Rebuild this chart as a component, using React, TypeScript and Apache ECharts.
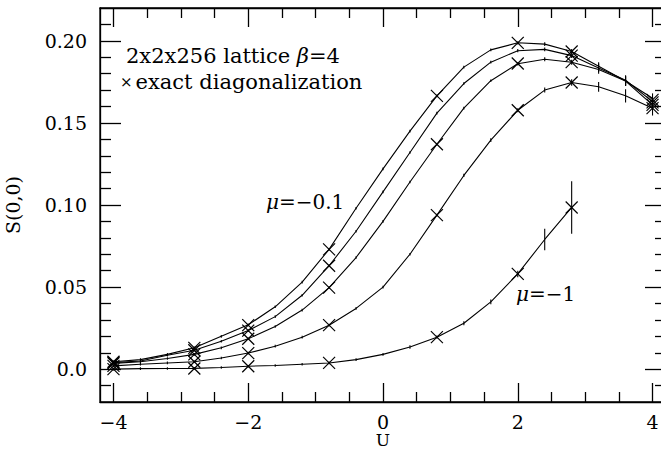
import { useEffect, useRef } from "react";
import * as echarts from "echarts";

// U grid of the simulation points
const U = [-4, -3.6, -3.2, -2.8, -2.4, -2, -1.6, -1.2, -0.8, -0.4, 0, 0.4, 0.8, 1.2, 1.6, 2, 2.4, 2.8, 3.2, 3.6, 4];

// S(0,0) for the five curves (top to bottom)
const sA = [0.0045, 0.0058, 0.009, 0.013, 0.02, 0.027, 0.038, 0.053, 0.073, 0.098, 0.122, 0.145, 0.1665, 0.184, 0.1945, 0.1988, 0.198, 0.1935, 0.1845, 0.1755, 0.165];
const sB = [0.004, 0.005, 0.0085, 0.0115, 0.017, 0.0235, 0.032, 0.045, 0.063, 0.084, 0.108, 0.132, 0.156, 0.174, 0.187, 0.194, 0.1948, 0.191, 0.1835, 0.176, 0.163];
const sC = [0.0035, 0.0045, 0.0065, 0.009, 0.013, 0.0185, 0.026, 0.036, 0.0497, 0.068, 0.09, 0.114, 0.137, 0.159, 0.1757, 0.186, 0.1888, 0.187, 0.1825, 0.1755, 0.161];
const sD = [0.002, 0.003, 0.0038, 0.0045, 0.0068, 0.0098, 0.014, 0.0195, 0.0268, 0.037, 0.05, 0.07, 0.0938, 0.118, 0.1395, 0.1577, 0.17, 0.1746, 0.172, 0.1665, 0.159];
const sE = [0, 0.0003, 0.0004, 0.0005, 0.001, 0.0018, 0.0022, 0.003, 0.0038, 0.0058, 0.009, 0.0135, 0.0195, 0.028, 0.041, 0.058, 0.079, 0.0985];

// error bars (half-lengths)
const errA = [0.0008, 0.0008, 0.0008, 0.0008, 0.0008, 0.0008, 0.0008, 0.0008, 0.0008, 0.0008, 0.0008, 0.0008, 0.0008, 0.0008, 0.0008, 0.001, 0.0012, 0.0015, 0.0025, 0.003, 0.003];
const errB = [0.0008, 0.0008, 0.0008, 0.0008, 0.0008, 0.0008, 0.0008, 0.0008, 0.0008, 0.0008, 0.0008, 0.0008, 0.0008, 0.0008, 0.0008, 0.001, 0.0012, 0.0015, 0.0025, 0.003, 0.003];
const errC = [0.0008, 0.0008, 0.0008, 0.0008, 0.0008, 0.0008, 0.0008, 0.0008, 0.0008, 0.0008, 0.0008, 0.0008, 0.0008, 0.0008, 0.0008, 0.001, 0.0012, 0.0015, 0.0025, 0.003, 0.003];
const errD = [0.0008, 0.0008, 0.0008, 0.0008, 0.0008, 0.0008, 0.0008, 0.0008, 0.0008, 0.0008, 0.0008, 0.0008, 0.0008, 0.001, 0.0012, 0.0012, 0.0015, 0.002, 0.003, 0.004, 0.0045];
const errE = [0.0008, 0.0008, 0.0008, 0.0008, 0.0008, 0.0008, 0.0008, 0.0008, 0.0008, 0.0008, 0.0008, 0.001, 0.001, 0.0012, 0.0015, 0.002, 0.0066, 0.016];

// exact diagonalization points
const exactU = [-4, -2.8, -2, -0.8, 0.8, 2, 2.8, 4];
const exA = [0.0045, 0.013, 0.0268, 0.073, 0.1665, 0.1988, 0.1935, 0.164];
const exB = [0.004, 0.0115, 0.0235, 0.063, null, null, 0.191, 0.1625];
const exC = [0.0035, 0.009, 0.0185, 0.0497, 0.137, 0.1862, 0.187, 0.161];
const exD = [0.002, 0.0045, 0.0098, 0.0268, 0.0938, 0.1577, 0.1746, 0.159];
const exE = [0.0, 0.0004, 0.0018, 0.0038, 0.0195, 0.058, 0.0985, null];

// ticks
const xMajor = [-4, -2, 0, 2, 4];
const xMinor = [-3.5, -3, -2.5, -1.5, -1, -0.5, 0.5, 1, 1.5, 2.5, 3, 3.5];
const yMajor = [0, 0.05, 0.1, 0.15, 0.2];
const yMinor = [-0.01, 0.01, 0.02, 0.03, 0.04, 0.06, 0.07, 0.08, 0.09, 0.11, 0.12, 0.13, 0.14, 0.16, 0.17, 0.18, 0.19, 0.21];

const FONT = "'DejaVu Serif', serif";
const BLACK = "#000";

export default function App() {
  const ref = useRef<HTMLDivElement>(null);

  useEffect(() => {
    if (!ref.current) return;
    const chart = echarts.init(ref.current, null, { renderer: "svg" });

    const curves = [sA, sB, sC, sD, sE];
    const errs = [errA, errB, errC, errD, errE];
    const exacts = [exA, exB, exC, exD, exE];

    const lineSeries = curves.map((vals, i) => ({
      type: "line",
      name: "curve" + i,
      data: vals.map((v, k) => [U[k], v]),
      showSymbol: false,
      symbol: "none",
      lineStyle: { color: BLACK, width: 1.1 },
      xAxisIndex: 0,
      yAxisIndex: 0,
      z: 3,
    }));

    const errData: number[][] = [];
    curves.forEach((vals, i) => {
      vals.forEach((v, k) => errData.push([U[k], v, errs[i][k]]));
    });
    const exData: number[][] = [];
    exacts.forEach((arr) => {
      arr.forEach((v, k) => {
        if (v !== null && v !== undefined) exData.push([exactU[k], v as number]);
      });
    });

    const lineStyle = { color: BLACK, width: 1.3 };

    const xBase = {
      type: "value",
      min: -4.2,
      max: 4.2,
      splitLine: { show: false },
    };
    const yBase = {
      type: "value",
      min: -0.02,
      max: 0.22,
      splitLine: { show: false },
    };

    chart.setOption({
      animation: false,
      backgroundColor: "#fff",
      grid: {
        left: 100,
        top: 8,
        width: 566,
        height: 394,
        show: true,
        borderColor: BLACK,
        borderWidth: 1.3,
        backgroundColor: "transparent",
        containLabel: false,
        outerBoundsMode: "none",
      },
      xAxis: [
        {
          ...xBase,
          position: "bottom",
          axisLine: { show: true, onZero: false, lineStyle },
          axisTick: { show: true, inside: true, length: 19, customValues: xMajor, lineStyle },
          axisLabel: {
            show: true,
            customValues: xMajor,
            margin: 10,
            color: BLACK,
            fontFamily: FONT,
            fontSize: 19,
            lineHeight: 19,
            formatter: (v: number) => (v < 0 ? "\u2212" + Math.abs(v) : String(v)),
          },
          name: "U",
          nameLocation: "middle",
          nameGap: 32,
          nameMoveOverlap: false,
          nameTextStyle: { color: BLACK, fontFamily: FONT, fontSize: 17, lineHeight: 12 },
        },
        {
          ...xBase,
          position: "bottom",
          axisLine: { show: false, onZero: false },
          axisTick: { show: true, inside: true, length: 10, customValues: xMinor, lineStyle },
          axisLabel: { show: false },
        },
        {
          ...xBase,
          position: "top",
          axisLine: { show: true, onZero: false, lineStyle },
          axisTick: { show: true, inside: true, length: 19, customValues: xMajor, lineStyle },
          axisLabel: { show: false },
        },
        {
          ...xBase,
          position: "top",
          axisLine: { show: false, onZero: false },
          axisTick: { show: true, inside: true, length: 10, customValues: xMinor, lineStyle },
          axisLabel: { show: false },
        },
      ],
      yAxis: [
        {
          ...yBase,
          position: "left",
          axisLine: { show: true, onZero: false, lineStyle },
          axisTick: { show: true, inside: true, length: 21, customValues: yMajor, lineStyle },
          axisLabel: {
            show: true,
            customValues: yMajor,
            margin: 13,
            color: BLACK,
            fontFamily: FONT,
            fontSize: 19,
            formatter: (v: number) => (Math.abs(v) < 1e-9 ? "0.0" : v.toFixed(2)),
          },
          name: "S(0,0)",
          nameLocation: "middle",
          nameGap: 78,
          nameRotate: 90,
          nameMoveOverlap: false,
          nameTextStyle: { color: BLACK, fontFamily: FONT, fontSize: 19 },
        },
        {
          ...yBase,
          position: "left",
          axisLine: { show: false, onZero: false },
          axisTick: { show: true, inside: true, length: 11, customValues: yMinor, lineStyle },
          axisLabel: { show: false },
        },
        {
          ...yBase,
          position: "right",
          axisLine: { show: true, onZero: false, lineStyle },
          axisTick: { show: true, inside: true, length: 21, customValues: yMajor, lineStyle },
          axisLabel: { show: false },
        },
        {
          ...yBase,
          position: "right",
          axisLine: { show: false, onZero: false },
          axisTick: { show: true, inside: true, length: 11, customValues: yMinor, lineStyle },
          axisLabel: { show: false },
        },
      ],
      series: [
        ...lineSeries,
        {
          type: "custom",
          name: "errors",
          xAxisIndex: 0,
          yAxisIndex: 0,
          data: errData,
          z: 4,
          renderItem: (_params: any, api: any) => {
            const x = api.value(0);
            const y = api.value(1);
            const e = api.value(2);
            const p1 = api.coord([x, y - e]);
            const p2 = api.coord([x, y + e]);
            return {
              type: "line",
              shape: { x1: p1[0], y1: p1[1], x2: p2[0], y2: p2[1] },
              style: { stroke: BLACK, lineWidth: 1.1 },
            };
          },
        },
        {
          type: "custom",
          name: "exact diagonalization",
          xAxisIndex: 0,
          yAxisIndex: 0,
          data: exData,
          z: 5,
          renderItem: (_params: any, api: any) => {
            const c = api.coord([api.value(0), api.value(1)]);
            const s = 6;
            return {
              type: "group",
              children: [
                {
                  type: "line",
                  shape: { x1: c[0] - s, y1: c[1] - s, x2: c[0] + s, y2: c[1] + s },
                  style: { stroke: BLACK, lineWidth: 1.2 },
                },
                {
                  type: "line",
                  shape: { x1: c[0] - s, y1: c[1] + s, x2: c[0] + s, y2: c[1] - s },
                  style: { stroke: BLACK, lineWidth: 1.2 },
                },
              ],
            };
          },
        },
      ],
      graphic: [
        {
          type: "text",
          left: 126,
          top: 45,
          style: {
            text: "2x2x256 lattice {it|β}=4",
            font: `21px ${FONT}`,
            fill: BLACK,
            rich: { it: { fontStyle: "italic", fontFamily: FONT, fontSize: 21 } },
          },
        },
        {
          type: "text",
          left: 120,
          top: 71,
          style: {
            text: "{s|×}exact diagonalization",
            font: `21px ${FONT}`,
            fill: BLACK,
            rich: { s: { fontSize: 15, fontFamily: FONT, padding: [0, 3, 0, 0] } },
          },
        },
        {
          type: "text",
          left: 266,
          top: 192,
          style: {
            text: "{it|μ}=\u22120.1",
            font: `20px ${FONT}`,
            fill: BLACK,
            rich: { it: { fontStyle: "italic", fontFamily: FONT, fontSize: 20 } },
          },
        },
        {
          type: "text",
          left: 516,
          top: 284,
          style: {
            text: "{it|μ}=\u22121",
            font: `20px ${FONT}`,
            fill: BLACK,
            rich: { it: { fontStyle: "italic", fontFamily: FONT, fontSize: 20 } },
          },
        },
      ],
    });

    return () => chart.dispose();
  }, []);

  return (
    <div
      ref={ref}
      style={{ position: "absolute", left: 0, top: 0, width: 661, height: 450, background: "#fff" }}
    />
  );
}
